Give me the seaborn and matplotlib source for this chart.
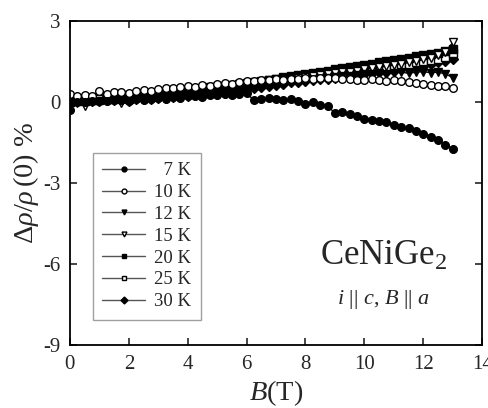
import matplotlib
matplotlib.use("Agg")
import matplotlib.pyplot as plt
import seaborn as sns

# Field values (T)
B = [0.0, 0.25, 0.5, 0.75, 1.0, 1.25, 1.5, 1.75, 2.0, 2.25, 2.5, 2.75, 3.0,
     3.25, 3.5, 3.75, 4.0, 4.25, 4.5, 4.75, 5.0, 5.25, 5.5, 5.75, 6.0, 6.25,
     6.5, 6.75, 7.0, 7.25, 7.5, 7.75, 8.0, 8.25, 8.5, 8.75, 9.0, 9.25, 9.5,
     9.75, 10.0, 10.25, 10.5, 10.75, 11.0, 11.25, 11.5, 11.75, 12.0, 12.25,
     12.5, 12.75, 13.0]

# Magnetoresistance (%)
mr_7K = [-0.30, 0.00, -0.02, 0.03, 0.05, 0.02, 0.08, 0.06, 0.04, 0.10,
         0.08, 0.12, 0.14, 0.12, 0.18, 0.16, 0.20, 0.22, 0.19, 0.25,
         0.24, 0.28, 0.26, 0.30, 0.32, 0.06, 0.10, 0.14, 0.12, 0.08,
         0.10, 0.02, -0.06, -0.02, -0.10, -0.14, -0.42, -0.38, -0.44, -0.52,
         -0.62, -0.66, -0.72, -0.76, -0.86, -0.92, -0.98, -1.06, -1.18, -1.30,
         -1.42, -1.58, -1.74]
mr_10K = [0.30, 0.22, 0.25, 0.20, 0.40, 0.28, 0.35, 0.38, 0.32, 0.40,
          0.45, 0.42, 0.48, 0.50, 0.52, 0.55, 0.58, 0.56, 0.62, 0.60,
          0.66, 0.70, 0.68, 0.74, 0.78, 0.76, 0.80, 0.82, 0.84, 0.82,
          0.86, 0.85, 0.88, 0.86, 0.90, 0.88, 0.90, 0.86, 0.84, 0.80,
          0.82, 0.84, 0.80, 0.78, 0.82, 0.76, 0.72, 0.70, 0.66, 0.62,
          0.60, 0.58, 0.50]
mr_12K = [0.00, -0.05, 0.02, 0.05, 0.04, 0.08, 0.10, 0.06, 0.12, 0.15,
          0.14, 0.18, 0.20, 0.22, 0.24, 0.26, 0.28, 0.30, 0.32, 0.34,
          0.36, 0.40, 0.42, 0.46, 0.50, 0.54, 0.58, 0.62, 0.66, 0.70,
          0.72, 0.76, 0.80, 0.82, 0.86, 0.88, 0.92, 0.94, 0.96, 1.00,
          1.02, 1.04, 1.06, 1.05, 1.08, 1.10, 1.06, 1.10, 1.12, 1.08,
          1.10, 1.04, 0.90]
mr_15K = [0.05, 0.00, -0.15, 0.05, 0.10, 0.08, 0.12, -0.05, 0.15, 0.18,
          0.20, 0.22, 0.24, 0.28, 0.30, 0.32, 0.36, 0.38, 0.42, 0.44,
          0.48, 0.52, 0.56, 0.60, 0.64, 0.66, 0.70, 0.74, 0.78, 0.82,
          0.86, 0.88, 0.92, 0.96, 1.00, 1.02, 1.06, 1.10, 1.12, 1.16,
          1.20, 1.24, 1.28, 1.32, 1.36, 1.40, 1.46, 1.52, 1.58, 1.64,
          1.72, 1.84, 2.20]
mr_20K = [0.00, 0.05, 0.02, 0.08, 0.06, 0.10, 0.12, 0.14, 0.12, 0.18,
          0.20, 0.22, 0.24, 0.26, 0.30, 0.32, 0.34, 0.38, 0.40, 0.44,
          0.46, 0.50, 0.54, 0.58, 0.62, 0.70, 0.74, 0.80, 0.86, 0.92,
          0.96, 1.00, 1.04, 1.08, 1.10, 1.14, 1.20, 1.24, 1.28, 1.32,
          1.38, 1.42, 1.46, 1.50, 1.54, 1.58, 1.62, 1.68, 1.74, 1.78,
          1.82, 1.88, 1.95]
mr_25K = [0.10, 0.08, 0.15, 0.12, 0.18, 0.20, 0.16, 0.24, 0.22, 0.28,
          0.30, 0.32, 0.34, 0.36, 0.40, 0.42, 0.44, 0.48, 0.50, 0.54,
          0.56, 0.60, 0.62, 0.66, 0.70, 0.72, 0.76, 0.80, 0.84, 0.88,
          0.90, 0.92, 0.96, 0.98, 1.00, 1.04, 1.06, 1.10, 1.14, 1.18,
          1.20, 1.24, 1.28, 1.30, 1.34, 1.38, 1.42, 1.46, 1.50, 1.54,
          1.60, 1.66, 1.80]
mr_30K = [0.00, 0.02, 0.00, 0.04, 0.02, 0.06, 0.08, 0.06, 0.04, 0.10,
          0.12, 0.10, 0.14, 0.16, 0.18, 0.20, 0.22, 0.24, 0.26, 0.28,
          0.30, 0.34, 0.38, 0.42, 0.48, 0.52, 0.56, 0.60, 0.64, 0.68,
          0.72, 0.74, 0.78, 0.80, 0.84, 0.86, 0.90, 0.94, 0.96, 1.00,
          1.04, 1.06, 1.10, 1.12, 1.16, 1.20, 1.24, 1.28, 1.34, 1.40,
          1.46, 1.52, 1.58]

labels = ["  7 K", "10 K", "12 K", "15 K", "20 K", "25 K", "30 K"]
series = [mr_7K, mr_10K, mr_12K, mr_15K, mr_20K, mr_25K, mr_30K]
markers = ["o", "o", "v", "v", "s", "s", "D"]
filled = [True, False, True, False, True, False, True]

sns.set_style("ticks")
plt.rcParams["font.family"] = ["Liberation Serif", "DejaVu Serif"]
plt.rcParams["mathtext.fontset"] = "custom"
plt.rcParams["mathtext.rm"] = "Liberation Serif"
plt.rcParams["mathtext.it"] = "Liberation Serif:italic"
plt.rcParams["axes.unicode_minus"] = False

fig = plt.figure(figsize=(4.89, 4.08), dpi=100)
ax = fig.add_axes([0.143, 0.154, 0.843, 0.795])

# draw back to front so the 7 K curve sits on top like the original
for i in range(len(series) - 1, -1, -1):
    sns.lineplot(x=B, y=series[i], ax=ax, color="black", lw=1.0,
                 marker=markers[i], markersize=5.5 if markers[i] != "D" else 5,
                 markerfacecolor="black" if filled[i] else "white",
                 markeredgecolor="black", markeredgewidth=1.0,
                 label=labels[i], legend=False)

ax.set_xlim(0, 14)
ax.set_ylim(-9, 3)
ax.set_xticks([0, 2, 4, 6, 8, 10, 12, 14])
ax.set_yticks([-9, -6, -3, 0, 3])
ax.tick_params(direction="in", top=True, right=True, length=5, width=1.2,
               labelsize=15, pad=7)
for s in ax.spines.values():
    s.set_linewidth(1.3)
    s.set_color("black")

ax.set_xlabel(r"$B$(T)", fontsize=20.5, labelpad=3)
ax.set_ylabel(r"$\Delta\rho/\rho\,(0)$ %", fontsize=20.5, labelpad=1)

ax.text(10.65, -5.7, r"CeNiGe$_2$", fontsize=25, ha="center", va="center")
ax.text(10.65, -7.3, r"$i$ || $c$, $B$ || $a$", fontsize=16, ha="center",
        va="center")

handles, labs = ax.get_legend_handles_labels()
order = [labs.index(l) for l in labels]
leg = ax.legend([handles[k] for k in order], [labs[k] for k in order],
                loc="upper left", bbox_to_anchor=(0.055, 0.593),
                fontsize=13.5, frameon=True, fancybox=False,
                edgecolor="#888888", handlelength=2.3, handletextpad=0.5,
                labelspacing=0.25, borderpad=0.5, borderaxespad=0)
leg.get_frame().set_linewidth(1.0)
for ln in leg.get_lines():
    ln.set_color("#555555")
    ln.set_markersize(3.5)

fig.savefig("out.png", dpi=100)
